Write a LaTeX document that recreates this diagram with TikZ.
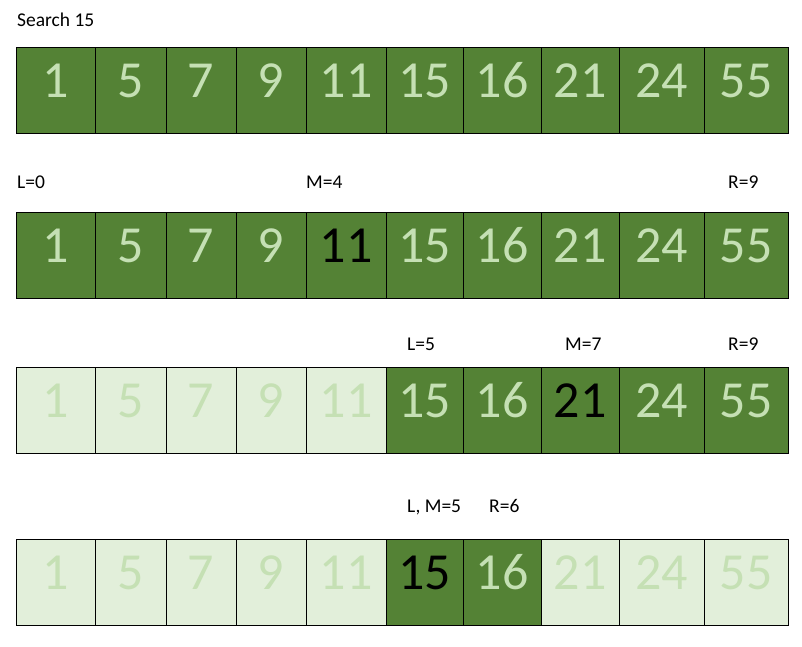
\documentclass[tikz,border=0pt]{standalone}
\usepackage{fontspec}
\setmainfont{Carlito}
\definecolor{cellgreen}{HTML}{548235}
\definecolor{paletext}{HTML}{C5E0B4}
\definecolor{palegreen}{HTML}{E2EFDA}
\tikzset{
  cell/.style={draw=black,line width=0.9pt,fill=cellgreen,text=paletext,inner sep=0pt,
    minimum height=86pt,text height=34pt,text depth=20pt,font=\fontsize{52}{52}\selectfont},
  hot/.style={cell,text=black},
  faded/.style={cell,fill=palegreen,text=paletext},
  lbl/.style={anchor=base west,inner sep=0pt,font=\fontsize{19.5}{20}\selectfont}
}
\begin{document}
\begin{tikzpicture}[x=1pt,y=-1pt]
    \useasboundingbox (0,0) rectangle (802,646);%

    \node[lbl] (search) at (17,26) {Search 15};%

    \node[cell,minimum width=79pt] (A0) at (55.5,90.2) {1};%
    \node[cell,minimum width=71pt] (A1) at (130.5,90.2) {5};%
    \node[cell,minimum width=70pt] (A2) at (201,90.2) {7};%
    \node[cell,minimum width=70pt] (A3) at (271,90.2) {9};%
    \node[cell,minimum width=80pt] (A4) at (346,90.2) {11};%
    \node[cell,minimum width=77pt] (A5) at (424.5,90.2) {15};%
    \node[cell,minimum width=78pt] (A6) at (502,90.2) {16};%
    \node[cell,minimum width=78pt] (A7) at (580,90.2) {21};%
    \node[cell,minimum width=85pt] (A8) at (661.5,90.2) {24};%
    \node[cell,minimum width=84pt] (A9) at (746,90.2) {55};%

    \node[lbl] (BL) at (17,188.3) {L=0};%
    \node[lbl] (BM) at (306,188.3) {M=4};%
    \node[lbl] (BR) at (728,188.3) {R=9};%

    \node[cell,minimum width=79pt] (B0) at (55.5,255) {1};%
    \node[cell,minimum width=71pt] (B1) at (130.5,255) {5};%
    \node[cell,minimum width=70pt] (B2) at (201,255) {7};%
    \node[cell,minimum width=70pt] (B3) at (271,255) {9};%
    \node[hot,minimum width=80pt] (B4) at (346,255) {11};%
    \node[cell,minimum width=77pt] (B5) at (424.5,255) {15};%
    \node[cell,minimum width=78pt] (B6) at (502,255) {16};%
    \node[cell,minimum width=78pt] (B7) at (580,255) {21};%
    \node[cell,minimum width=85pt] (B8) at (661.5,255) {24};%
    \node[cell,minimum width=84pt] (B9) at (746,255) {55};%

    \node[lbl] (CL) at (407,350) {L=5};%
    \node[lbl] (CM) at (565,350) {M=7};%
    \node[lbl] (CR) at (728,350) {R=9};%

    \node[faded,minimum width=79pt] (C0) at (55.5,410) {1};%
    \node[faded,minimum width=71pt] (C1) at (130.5,410) {5};%
    \node[faded,minimum width=70pt] (C2) at (201,410) {7};%
    \node[faded,minimum width=70pt] (C3) at (271,410) {9};%
    \node[faded,minimum width=80pt] (C4) at (346,410) {11};%
    \node[cell,minimum width=77pt] (C5) at (424.5,410) {15};%
    \node[cell,minimum width=78pt] (C6) at (502,410) {16};%
    \node[hot,minimum width=78pt] (C7) at (580,410) {21};%
    \node[cell,minimum width=85pt] (C8) at (661.5,410) {24};%
    \node[cell,minimum width=84pt] (C9) at (746,410) {55};%

    \node[lbl] (DL) at (407,512) {L, M=5};%
    \node[lbl] (DR) at (489,512) {R=6};%

    \node[faded,minimum width=79pt] (D0) at (55.5,582) {1};%
    \node[faded,minimum width=71pt] (D1) at (130.5,582) {5};%
    \node[faded,minimum width=70pt] (D2) at (201,582) {7};%
    \node[faded,minimum width=70pt] (D3) at (271,582) {9};%
    \node[faded,minimum width=80pt] (D4) at (346,582) {11};%
    \node[hot,minimum width=77pt] (D5) at (424.5,582) {15};%
    \node[cell,minimum width=78pt] (D6) at (502,582) {16};%
    \node[faded,minimum width=78pt] (D7) at (580,582) {21};%
    \node[faded,minimum width=85pt] (D8) at (661.5,582) {24};%
    \node[faded,minimum width=84pt] (D9) at (746,582) {55};%
\end{tikzpicture}
\end{document}
